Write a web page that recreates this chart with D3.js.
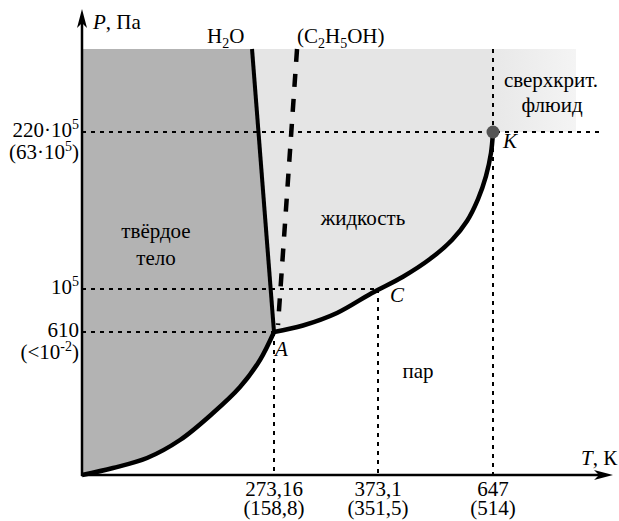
<!DOCTYPE html>
<html>
<head>
<meta charset="utf-8">
<script src="https://cdn.jsdelivr.net/npm/d3@7"></script>
<style>
  body { margin: 0; background: #fff; }
  svg { display: block; }
</style>
</head>
<body>
<svg id="chart"></svg>
<script>
// schematic phase diagram, axes are not to scale so the scales are piecewise
const T_KEYS = [0, 273.16, 373.1, 647, 750, 800];
const P_KEYS = [0, 610, 1e5, 220e5, 300e5, 350e5];

const triple = { T: 273.16, P: 610 };
const boiling = { T: 373.1, P: 1e5 };
const critical = { T: 647, P: 220e5 };
const P_TOP = 300e5;      // top of shaded area
const T_SUPER = 750;      // right edge of supercritical box
const T_END = 800, P_END = 350e5;

// [T, P] points
const sublimation = [[0, 0], [44.1, 29.9], [92.5, 72.5], [139.4, 149.3], [186.4, 264.5],
  [224.8, 375.4], [253.2, 490.6], [273.16, 610]];
const vaporization = [[273.16, 610], [301.0, 15634], [333.7, 44527], [367.3, 90755],
  [432.6, 18.13e5], [496.9, 42.8e5], [549.3, 69.4e5], [585.1, 95.9e5], [611.3, 126.5e5],
  [630.3, 158.6e5], [642.2, 190.7e5], [647, 220e5]];
const melting = [[273.16, 610], [241.9, 300e5]];
const ethanolMelting = [[277, 16790], [295.3, 300e5]];

const xTickTop = ["273,16", "373,1", "647"];
const xTickBottom = ["(158,8)", "(351,5)", "(514)"];
const xTickValues = [273.16, 373.1, 647];

// each label line: [text, superscript, tail]
const yTickValues = [220e5, 1e5, 610];
const yTickLines = [
  [["220·10", "5", ""], ["(63·10", "5", ")"]],
  [["10", "5", ""]],
  [["610", "", ""], ["(<10", "-2", ")"]]
];

// pick the first serif face that is really installed
function pickFont(cands) {
  const c = document.createElement("canvas").getContext("2d");
  const s = "жидкость WMil 1234567890 (C)";
  const w = f => { c.font = "40px " + f; return c.measureText(s).width; };
  const bases = ["monospace", "sans-serif"];
  const bw = bases.map(w);
  for (const f of cands) {
    const fw = bases.map(b => w(`"${f}", ${b}`));
    if (fw[0] !== bw[0] && fw[1] !== bw[1]) return `"${f}"`;
  }
  return "serif";
}
const FONT = pickFont(["Liberation Serif", "Times New Roman", "Tinos", "DejaVu Serif",
  "Noto Serif", "FreeSerif", "Nimbus Roman", "Times"]);

const width = 619, height = 521;
const svg = d3.select("#chart").attr("width", width).attr("height", height);

const x = d3.scaleLinear().domain(T_KEYS).range([82, 274, 378, 493, 576, 613]);
const y = d3.scaleLinear().domain(P_KEYS).range([475, 332, 289, 132, 49, 9]);

const line = d3.line().x(d => x(d[0])).y(d => y(d[1]));
const curve = d3.line().x(d => x(d[0])).y(d => y(d[1])).curve(d3.curveCatmullRom.alpha(0.5));

// gradient for the supercritical box
const grad = svg.append("defs").append("linearGradient").attr("id", "superGrad");
grad.append("stop").attr("offset", "0%").attr("stop-color", "#e8e8e8");
grad.append("stop").attr("offset", "100%").attr("stop-color", "#f4f4f4");

// --- regions ---
// solid
svg.append("path")
  .attr("d", line([[0, P_TOP], melting[1], melting[0]]) +
    curve(sublimation.slice().reverse()).replace(/^M/, "L") + "Z")
  .attr("fill", "#b3b3b3");

// liquid
svg.append("path")
  .attr("d", line([melting[1], [critical.T, P_TOP], [critical.T, critical.P]]) +
    curve(vaporization.slice().reverse()).replace(/^M/, "L") + "Z")
  .attr("fill", "#e5e5e5");

// supercritical
svg.append("rect")
  .attr("x", x(critical.T)).attr("y", y(P_TOP))
  .attr("width", x(T_SUPER) - x(critical.T))
  .attr("height", y(critical.P) - y(P_TOP))
  .attr("fill", "url(#superGrad)");

// --- dotted guides ---
const dotted = svg.append("g")
  .attr("stroke", "#000").attr("stroke-width", 2).attr("stroke-dasharray", "4,5").attr("fill", "none");
dotted.append("path").attr("d", line([[0, critical.P], [785, critical.P]]));
dotted.append("path").attr("d", line([[0, boiling.P], [boiling.T, boiling.P]]));
dotted.append("path").attr("d", line([[0, triple.P], [triple.T, triple.P]]));
dotted.append("path").attr("d", line([[triple.T, triple.P], [triple.T, 0]]));
dotted.append("path").attr("d", line([[boiling.T, boiling.P], [boiling.T, 0]]));
dotted.append("path").attr("d", line([[critical.T, P_TOP], [critical.T, 0]]));

// --- curves ---
svg.append("path").attr("d", curve(sublimation))
  .attr("fill", "none").attr("stroke", "#000").attr("stroke-width", 4.5);
svg.append("path").attr("d", curve(vaporization))
  .attr("fill", "none").attr("stroke", "#000").attr("stroke-width", 4.5);
svg.append("path").attr("d", line(melting))
  .attr("fill", "none").attr("stroke", "#000").attr("stroke-width", 4).attr("stroke-linejoin", "round");
svg.append("path").attr("d", line(ethanolMelting.slice().reverse()))
  .attr("fill", "none").attr("stroke", "#000").attr("stroke-width", 4.5).attr("stroke-dasharray", "13,12");

// critical point
svg.append("circle").attr("cx", x(critical.T)).attr("cy", y(critical.P)).attr("r", 6.5).attr("fill", "#555");

// --- axes ---
const ox = x(0), oy = y(0), xe = x(T_END), ye = y(P_END);
svg.append("line").attr("x1", ox).attr("y1", oy + 1).attr("x2", ox).attr("y2", ye + 12)
  .attr("stroke", "#000").attr("stroke-width", 2.5);
svg.append("line").attr("x1", ox - 1).attr("y1", oy).attr("x2", xe - 12).attr("y2", oy)
  .attr("stroke", "#000").attr("stroke-width", 2.5);
svg.append("path")
  .attr("d", `M${ox},${ye} L${ox - 5},${ye + 19} L${ox},${ye + 14} L${ox + 5},${ye + 19} Z`);
svg.append("path")
  .attr("d", `M${xe},${oy} L${xe - 19},${oy - 5} L${xe - 14},${oy} L${xe - 19},${oy + 5} Z`);

// --- text ---
const fs = 21, small = 14;
const txt = svg.append("g").attr("font-family", FONT).attr("font-size", fs).attr("fill", "#000");

// parts: {t, i: italic, s: small, dy}
function addText(px, py, parts, anchor) {
  const t = txt.append("text").attr("x", px).attr("y", py).attr("text-anchor", anchor || "start");
  parts.forEach(p => {
    const s = t.append("tspan").text(p.t);
    if (p.i) s.attr("font-style", "italic");
    if (p.s) s.attr("font-size", small);
    if (p.dy) s.attr("dy", p.dy);
  });
  return t;
}

// y axis labels
yTickValues.forEach((v, i) => {
  yTickLines[i].forEach((ln, j) => {
    const parts = [{ t: ln[0] }];
    if (ln[1]) parts.push({ t: ln[1], s: true, dy: -8 });
    if (ln[2]) parts.push({ t: ln[2], dy: 8 });
    addText(79, y(v) + 5 + j * 22, parts, "end");
  });
});

// x axis labels
xTickValues.forEach((v, i) => {
  addText(x(v), oy + 21, [{ t: xTickTop[i] }], "middle");
  addText(x(v), oy + 40, [{ t: xTickBottom[i] }], "middle");
});

addText(ox + 11, 29, [{ t: "P", i: true }, { t: ", Па" }]);
addText(581, oy - 10, [{ t: "T", i: true }, { t: ", К" }]);

addText(207, 43, [{ t: "H" }, { t: "2", s: true, dy: 5 }, { t: "O", dy: -5 }]);
addText(297, 43, [{ t: "(C" }, { t: "2", s: true, dy: 5 }, { t: "H", dy: -5 },
  { t: "5", s: true, dy: 5 }, { t: "OH)", dy: -5 }]);

addText(156, 238, [{ t: "твёрдое" }], "middle");
addText(156, 265, [{ t: "тело" }], "middle");
addText(363, 225, [{ t: "жидкость" }], "middle");
addText(418, 378, [{ t: "пар" }], "middle");
addText(551, 87, [{ t: "сверхкрит." }], "middle");
addText(552, 112, [{ t: "флюид" }], "middle");

addText(x(triple.T) + 1, y(triple.P) + 24, [{ t: "A", i: true }]);
addText(x(boiling.T) + 12, y(boiling.P) + 13, [{ t: "C", i: true }]);
addText(x(critical.T) + 10, y(critical.P) + 16, [{ t: "K", i: true }]);
</script>
</body>
</html>
